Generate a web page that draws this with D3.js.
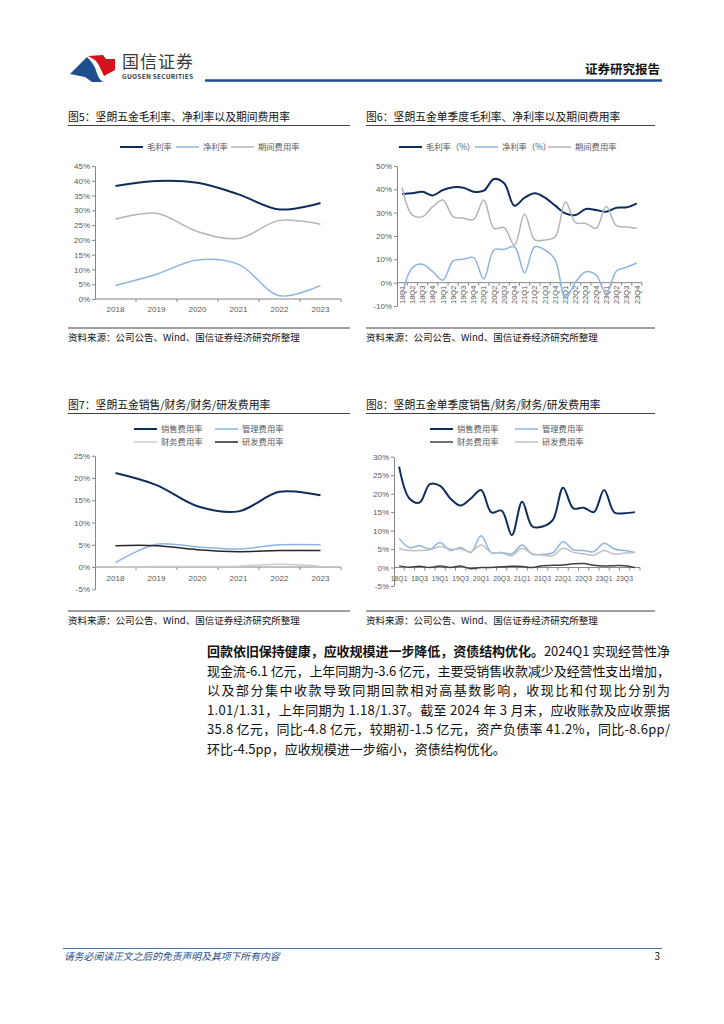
<!DOCTYPE html>
<html>
<head>
<meta charset="utf-8">
<script src="https://cdn.jsdelivr.net/npm/d3@7"></script>
<style>
body { margin: 0; background: #fff; }
svg { display: block; font-family: "Noto Sans CJK SC", "Noto Sans", sans-serif; }
</style>
</head>
<body>
<div id="page"></div>
<script>
const years = ["2018", "2019", "2020", "2021", "2022", "2023"];
const quarters = ["18Q1", "18Q2", "18Q3", "18Q4", "19Q1", "19Q2", "19Q3", "19Q4",
    "20Q1", "20Q2", "20Q3", "20Q4", "21Q1", "21Q2", "21Q3", "21Q4",
    "22Q1", "22Q2", "22Q3", "22Q4", "23Q1", "23Q2", "23Q3", "23Q4"];

// 图5 年度
const grossYear = [38.2, 39.9, 39.3, 35.4, 30.3, 32.5];
const netYear = [4.6, 8.4, 13.2, 11.7, 1.1, 4.6];
const expenseYear = [27.0, 29.0, 22.8, 20.5, 26.6, 25.3];

// 图6 单季度
const grossQ = [38.0, 38.3, 39.0, 37.4, 39.7, 40.9, 40.7, 39.0, 39.4, 44.4, 42.6, 33.0,
    36.4, 38.3, 36.4, 33.0, 29.7, 29.0, 31.6, 31.1, 30.4, 32.1, 32.3, 34.0];
const netQ = [-5.0, 6.4, 7.9, 4.7, 1.1, 9.3, 10.0, 10.7, 1.6, 14.0, 14.3, 15.4,
    4.3, 15.4, 14.0, 9.7, -6.6, 0.3, 4.7, 3.3, -4.8, 5.0, 6.6, 8.4];
const expenseQ = [40.9, 29.0, 28.3, 32.6, 35.4, 28.3, 27.6, 27.1, 35.4, 23.3, 23.6, 16.1,
    29.3, 18.3, 18.3, 19.7, 34.7, 25.7, 25.4, 23.3, 32.6, 24.4, 23.9, 23.3];

// 图7 年度费用率
const sellYear = [21.1, 18.4, 13.65, 12.5, 16.9, 16.1];
const adminYear = [1.0, 5.1, 4.5, 4.05, 5.0, 5.0];
const finYear = [0.0, 0.1, 0.1, 0.2, 0.6, 0.2];
const rdYear = [4.8, 4.8, 3.9, 3.45, 3.7, 3.7];

// 图8 单季度费用率
const sellQ = [27.3, 18.7, 17.6, 22.6, 22.1, 18.7, 16.8, 18.7, 21.0, 14.9, 15.4, 8.8,
    17.8, 11.1, 11.1, 12.9, 21.6, 16.0, 16.2, 15.0, 21.0, 14.9, 14.7, 15.0];
const adminQ = [7.9, 5.4, 5.9, 5.0, 6.8, 4.6, 5.4, 4.1, 8.6, 4.0, 4.1, 3.7,
    6.1, 3.6, 3.6, 4.0, 7.0, 4.8, 4.6, 4.3, 6.6, 5.0, 4.6, 4.1];
const finQ = [0.45, 0.1, 0.35, 0.0, 0.4, 0.0, 0.4, -0.3, 0.0, 0.0, 0.2, 0.35,
    0.3, 0.0, 0.5, 0.6, 0.7, 1.0, 1.1, 0.6, 0.4, 0.5, 0.5, 0.0];
const rdQ = [5.1, 4.6, 4.6, 4.8, 5.7, 5.0, 5.0, 4.3, 6.1, 4.1, 3.9, 3.2,
    5.2, 3.7, 3.4, 3.2, 5.2, 4.1, 3.7, 3.3, 4.6, 3.6, 3.9, 4.1];

const navy = "#0f2d5c", lightBlue = "#8db4e2", gray = "#b4b4b4";
const axisColor = "#868686", labelColor = "#595959";
const source = "资料来源：公司公告、Wind、国信证券经济研究所整理";

const svg = d3.select("#page").append("svg")
    .attr("width", 724)
    .attr("height", 1024);

svg.append("rect").attr("width", 724).attr("height", 1024).attr("fill", "#fff");

// 页眉
svg.append("path")
    .attr("d", "M70,74 L87,57 C92,62 95,66 96.5,72 C98,77 100,80 103,82 L92,82 L85,77 Z")
    .attr("fill", "#1f4e8c");
svg.append("path")
    .attr("d", "M88,56 L103,55 L106,59 L115,59 L115,70 L104,76 C101,70 99,64 95,60 Z")
    .attr("fill", "#d7101d");
svg.append("text").attr("x", 122).attr("y", 67.5).text("国信证券")
    .style("font-size", "17px").attr("fill", "#3a3a3a").attr("textLength", 71);
svg.append("text").attr("x", 122).attr("y", 79).text("GUOSEN SECURITIES")
    .style("font-size", "6.5px").style("font-weight", "bold").attr("fill", "#3a3a3a")
    .attr("textLength", 71);
svg.append("text").attr("x", 660).attr("y", 74).text("证券研究报告")
    .attr("text-anchor", "end").style("font-size", "12.5px").style("font-weight", "bold")
    .attr("fill", "#111");
svg.append("line").attr("x1", 205).attr("x2", 662).attr("y1", 80.5).attr("y2", 80.5)
    .attr("stroke", "#1f4e8c").attr("stroke-width", 2.5);

function drawChart(c) {
    let g = svg.append("g");

    g.append("text").attr("x", c.left).attr("y", c.titleY).text(c.title)
        .style("font-size", "10.8px").attr("fill", "#111");
    g.append("line").attr("x1", c.left).attr("x2", c.right)
        .attr("y1", c.titleY + 4.5).attr("y2", c.titleY + 4.5)
        .attr("stroke", "#404040").attr("stroke-width", 1);

    g.append("line").attr("x1", c.left).attr("x2", c.right)
        .attr("y1", c.sourceY - 13).attr("y2", c.sourceY - 13)
        .attr("stroke", "#404040").attr("stroke-width", 1);
    g.append("text").attr("x", c.left).attr("y", c.sourceY).text(source)
        .style("font-size", "9.5px").attr("fill", "#111");

    let x = d3.scaleBand().domain(c.cats).range(c.xRange);
    let y = d3.scaleLinear().domain(c.yDomain).range(c.yRange);
    let cx = d => x(d) + x.bandwidth() / 2;

    let yAxis = g.append("g")
        .attr("transform", "translate(" + c.xRange[0] + ",0)")
        .call(d3.axisLeft(y).tickValues(c.yTicks).tickSize(3).tickSizeOuter(0).tickPadding(2)
            .tickFormat(d => d + "%"));
    yAxis.select(".domain").attr("stroke", axisColor);
    yAxis.selectAll(".tick line").attr("stroke", axisColor);
    yAxis.selectAll(".tick text").attr("fill", labelColor)
        .style("font-size", "8px").style("font-family", "Liberation Sans, Arial, sans-serif");

    let y0 = y(0);
    g.append("line").attr("x1", c.xRange[0]).attr("x2", c.xRange[1])
        .attr("y1", y0).attr("y2", y0).attr("stroke", axisColor);
    let bounds = c.cats.map(d => x(d) + x.bandwidth());
    g.append("g").selectAll("line").data(bounds).enter().append("line")
        .attr("x1", d => d).attr("x2", d => d)
        .attr("y1", y0).attr("y2", y0 + 3)
        .attr("stroke", axisColor);

    let labels = c.labelCats || c.cats;
    if (c.rotate) {
        g.append("g").selectAll("text").data(labels).enter().append("text")
            .attr("transform", d => "translate(" + cx(d) + "," + (y0 + 3) + ") rotate(-90)")
            .attr("text-anchor", "end")
            .attr("dy", "0.35em")
            .text(d => d)
            .style("font-size", "7.5px")
            .style("font-family", "Liberation Sans, Arial, sans-serif")
            .attr("fill", labelColor);
    } else {
        g.append("g").selectAll("text").data(labels).enter().append("text")
            .attr("x", d => cx(d))
            .attr("y", y0 + c.labelGap)
            .attr("text-anchor", "middle")
            .text(d => d)
            .style("font-size", c.labelSize || "8px")
            .style("font-family", "Liberation Sans, Arial, sans-serif")
            .attr("fill", labelColor);
    }

    let line = d3.line()
        .x((d, i) => cx(c.cats[i]))
        .y(d => y(d))
        .curve(d3.curveCatmullRom.alpha(0.5));

    c.series.forEach(function (s) {
        g.append("path")
            .datum(s.values)
            .attr("d", line)
            .attr("fill", "none")
            .attr("stroke", s.color)
            .attr("stroke-width", s.width);
    });

    c.series.forEach(function (s) {
        g.append("line")
            .attr("x1", s.lx).attr("x2", s.lx + 23)
            .attr("y1", s.ly).attr("y2", s.ly)
            .attr("stroke", s.color).attr("stroke-width", s.width);
        g.append("text")
            .attr("x", s.lx + 27).attr("y", s.ly + 3)
            .text(s.name)
            .style("font-size", "8.3px")
            .attr("fill", labelColor);
    });
}

drawChart({
    title: "图5：坚朗五金毛利率、净利率以及期间费用率",
    left: 68, right: 350, titleY: 121, sourceY: 341,
    cats: years, xRange: [95, 341],
    yDomain: [0, 45], yRange: [299, 166], yTicks: d3.range(0, 46, 5),
    labelGap: 13,
    series: [
        { name: "毛利率", values: grossYear, color: navy, width: 2, lx: 120, ly: 147 },
        { name: "净利率", values: netYear, color: lightBlue, width: 1.5, lx: 176, ly: 147 },
        { name: "期间费用率", values: expenseYear, color: gray, width: 1.5, lx: 231, ly: 147 }
    ]
});

drawChart({
    title: "图6：坚朗五金单季度毛利率、净利率以及期间费用率",
    left: 366, right: 655, titleY: 121, sourceY: 341,
    cats: quarters, xRange: [397, 642],
    yDomain: [-10, 50], yRange: [306, 166], yTicks: d3.range(-10, 51, 10),
    rotate: true,
    series: [
        { name: "毛利率（%）", values: grossQ, color: navy, width: 2, lx: 399, ly: 147 },
        { name: "净利率（%）", values: netQ, color: lightBlue, width: 1.5, lx: 475, ly: 147 },
        { name: "期间费用率", values: expenseQ, color: gray, width: 1.5, lx: 548, ly: 147 }
    ]
});

drawChart({
    title: "图7：坚朗五金销售/财务/财务/研发费用率",
    left: 68, right: 350, titleY: 409, sourceY: 624,
    cats: years, xRange: [95, 341],
    yDomain: [-5, 25], yRange: [589.3, 455.7], yTicks: d3.range(-5, 26, 5),
    labelGap: 14,
    series: [
        { name: "销售费用率", values: sellYear, color: navy, width: 2, lx: 134, ly: 429 },
        { name: "管理费用率", values: adminYear, color: lightBlue, width: 1.5, lx: 215, ly: 429 },
        { name: "财务费用率", values: finYear, color: "#cccccc", width: 1.5, lx: 134, ly: 442 },
        { name: "研发费用率", values: rdYear, color: "#262626", width: 1.5, lx: 215, ly: 442 }
    ]
});

drawChart({
    title: "图8：坚朗五金单季度销售/财务/财务/研发费用率",
    left: 366, right: 655, titleY: 409, sourceY: 624,
    cats: quarters, xRange: [394, 640],
    labelCats: quarters.filter((d, i) => i % 2 == 0),
    labelSize: "6.8px",
    yDomain: [-5, 30], yRange: [586, 456.7], yTicks: d3.range(-5, 31, 5),
    labelGap: 13,
    series: [
        { name: "销售费用率", values: sellQ, color: navy, width: 2, lx: 430, ly: 429 },
        { name: "管理费用率", values: adminQ, color: lightBlue, width: 1.5, lx: 515, ly: 429 },
        { name: "财务费用率", values: finQ, color: "#404040", width: 1.5, lx: 430, ly: 442 },
        { name: "研发费用率", values: rdQ, color: "#c0c0c0", width: 1.5, lx: 515, ly: 442 }
    ]
});

// 正文
const paragraph = [
    [["回款依旧保持健康，应收规模进一步降低，资债结构优化。", true], ["2024Q1 实现经营性净", false]],
    [["现金流-6.1 亿元，上年同期为-3.6 亿元，主要受销售收款减少及经营性支出增加，", false]],
    [["以及部分集中收款导致同期回款相对高基数影响，收现比和付现比分别为", false]],
    [["1.01/1.31，上年同期为 1.18/1.37。截至 2024 年 3 月末，应收账款及应收票据", false]],
    [["35.8 亿元，同比-4.8 亿元，较期初-1.5 亿元，资产负债率 41.2%，同比-8.6pp/", false]],
    [["环比-4.5pp，应收规模进一步缩小，资债结构优化。", false]]
];

paragraph.forEach(function (parts, i) {
    let t = svg.append("text")
        .attr("x", 207)
        .attr("y", 656 + i * 19.6)
        .style("font-size", "13px")
        .attr("fill", "#111");
    if (i < paragraph.length - 1) t.attr("textLength", 463).attr("lengthAdjust", "spacing");
    parts.forEach(function (p) {
        t.append("tspan").text(p[0]).style("font-weight", p[1] ? "bold" : "normal");
    });
});

// 页脚
svg.append("line").attr("x1", 63).attr("x2", 662).attr("y1", 948.5).attr("y2", 948.5)
    .attr("stroke", "#4a76a8").attr("stroke-width", 1);
svg.append("text").attr("x", 64).attr("y", 960).text("请务必阅读正文之后的免责声明及其项下所有内容")
    .style("font-size", "9.8px").style("font-style", "italic").attr("fill", "#1f4e8c");
svg.append("text").attr("x", 660).attr("y", 960).text("3").attr("text-anchor", "end")
    .style("font-size", "10px").attr("fill", "#111");
</script>
</body>
</html>
